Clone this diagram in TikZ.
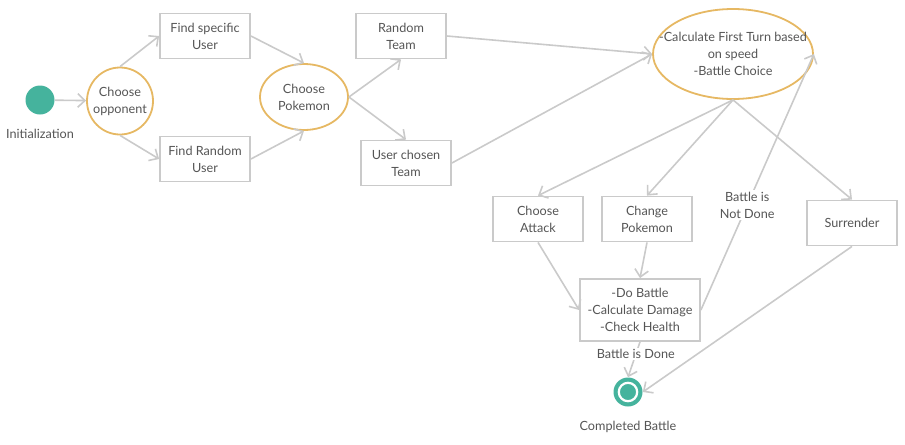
\documentclass[tikz,border=0pt]{standalone}
\usepackage{fontspec}
\setmainfont{Lato}
\usetikzlibrary{shapes.geometric,arrows.meta}
\definecolor{grigio}{HTML}{CACACA}
\definecolor{oro}{HTML}{E6B863}
\definecolor{verde}{HTML}{45B39D}
\definecolor{scritta}{HTML}{555555}
\begin{document}
\begin{tikzpicture}[x=0.25mm,y=-0.25mm,font=\fontsize{9}{12}\selectfont,text=scritta,
  scatola/.style={draw=grigio,line width=0.45mm,minimum width=22.5mm,minimum height=11.25mm,align=center,inner sep=1pt},
  ovale/.style={ellipse,draw=oro,line width=0.45mm,inner sep=0pt},
  freccia/.style={draw=grigio,line width=0.4mm,-{Straight Barb[length=1.8mm,width=3.4mm]}},
  cerchio/.style={circle,fill=verde,minimum size=7.25mm,inner sep=0pt},
  etichetta/.style={fill=white,align=center,inner sep=1pt}]

\useasboundingbox (0,0) rectangle (905,444);

%inizio
\node[cerchio] (inizio) at (40,100) {};
\node (initlbl) at (40,134) {Initialization};
\node[ovale,minimum width=16.5mm,minimum height=16.75mm,
  label={[align=center]center:Choose\\opponent}] (avversario) at (120,101) {};
%utenti
\node[scatola] (specifico) at (205,36) {Find specific\\User};
\node[scatola] (casuale) at (205,159) {Find Random\\User};
\node[ovale,minimum width=22mm,minimum height=16.5mm,
  label={[align=center]center:Choose\\Pokemon}] (pokemon) at (304,97) {};
%squadre
\node[scatola] (squadra) at (401,36) {Random\\Team};
\node[scatola] (scelta) at (406,163) {User chosen\\Team};
\node[ovale,minimum width=40mm,minimum height=22.5mm,
  label={[align=center]center:-Calculate First Turn based\\on speed\\-Battle Choice}] (turno) at (733,54) {};
%battaglia
\node[scatola] (attacco) at (538,219) {Choose\\Attack};
\node[scatola] (cambio) at (647,219) {Change\\Pokemon};
\node[scatola] (resa) at (852,223) {Surrender};
\node[scatola,minimum width=30mm,minimum height=15.5mm] (lotta) at (640,310) {-Do Battle\\-Calculate Damage\\-Check Health};
%fine
\node[cerchio] (fine) at (628,392) {};
\draw[white,line width=0.55mm] (fine) circle (2.3mm);
\node (finelbl) at (628,427) {Completed Battle};

%frecce
\foreach \p/\q in {inizio/avversario, avversario.north/specifico.west, avversario.south/casuale.west,
  specifico.east/pokemon.north, casuale.east/pokemon.south, pokemon.east/squadra.south,
  pokemon.east/scelta.north, squadra.east/turno.west, scelta.east/turno.west,
  turno.south/attacco.north, turno.south/cambio.north, turno.south/resa.north,
  attacco.south/lotta.west, cambio.south/lotta.north, resa.south/fine.east}
  \draw[freccia] (\p) -- (\q);
\draw[freccia] (lotta.east) -- node[etichetta,pos=0.41] (nonfinita) {Battle is\\Not Done} (turno.east);
\draw[freccia] (lotta.south) -- node[etichetta,pos=0.35] (finita) {Battle is Done} (fine.north);

\end{tikzpicture}
\end{document}
